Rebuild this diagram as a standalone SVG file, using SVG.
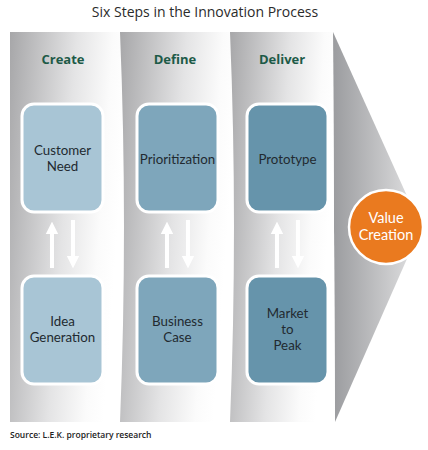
<svg xmlns="http://www.w3.org/2000/svg" width="428" height="450" viewBox="0 0 428 450">
<defs>
<linearGradient id="pg" x1="0" y1="0" x2="1" y2="0.25">
<stop offset="0" stop-color="#a7a7a9"/>
<stop offset="0.55" stop-color="#e4e4e5"/>
<stop offset="0.85" stop-color="#fbfbfb"/>
<stop offset="1" stop-color="#ffffff"/>
</linearGradient>
<linearGradient id="cg" x1="0" y1="0" x2="1" y2="0">
<stop offset="0" stop-color="#9b9c9f"/>
<stop offset="1" stop-color="#e4e4e5"/>
</linearGradient>
<marker id="ah" viewBox="0 0 10 10" refX="5" refY="5" markerWidth="3.2" markerHeight="3.6" orient="auto-start-reverse" markerUnits="strokeWidth">
<path d="M0,0 L10,5 L0,10 z" fill="#ffffff"/>
</marker>
<style>
.title{font-family:"Open Sans","Liberation Sans",sans-serif;font-size:14px;fill:#2b2b2b;text-anchor:middle}
.hdr{font-family:"Open Sans","Liberation Sans",sans-serif;font-size:13px;font-weight:bold;fill:#1d5a47;text-anchor:middle}
.lbl{font-family:Lato,"Open Sans","Liberation Sans",sans-serif;font-size:13.3px;fill:#222a30;text-anchor:middle}
.vc{font-family:Lato,"Open Sans","Liberation Sans",sans-serif;font-size:14.5px;fill:#ffffff;text-anchor:middle}
.src{font-family:"Open Sans","Liberation Sans",sans-serif;font-size:8.5px;font-weight:600;fill:#222222}
.box{stroke:#ffffff;stroke-width:3}
.c1{fill:#a8c5d5}
.c2{fill:#7ea6bb}
.c3{fill:#6694ab}
.arr{stroke:#ffffff;stroke-width:4;fill:none}
</style>
</defs>
<rect width="428" height="450" fill="#ffffff"/>
<text class="title" x="205" y="17">Six Steps in the Innovation Process</text>

<g id="background">
<path d="M333,32 L421,227 L335,422 Z" fill="url(#cg)"/>
<rect x="10" y="32" width="115" height="390" fill="url(#pg)"/>
<path d="M120,32 Q128,227 120,422 L235,422 L235,32 Z" fill="url(#pg)"/>
<path d="M230,32 Q238,227 230,422 L335,422 L333,32 Z" fill="url(#pg)"/>
</g>

<g id="headers">
<text class="hdr" x="63" y="64">Create</text>
<text class="hdr" x="175" y="64">Define</text>
<text class="hdr" x="282" y="64">Deliver</text>
</g>

<g id="customer-need">
<rect class="box c1" x="22" y="104" width="81" height="108" rx="12"/>
<text class="lbl" x="62.5" y="155">Customer</text>
<text class="lbl" x="62.5" y="171">Need</text>
</g>
<g id="prioritization">
<rect class="box c2" x="137" y="104" width="81" height="108" rx="12"/>
<text class="lbl" x="177.5" y="164">Prioritization</text>
</g>
<g id="prototype">
<rect class="box c3" x="247" y="104" width="81" height="108" rx="12"/>
<text class="lbl" x="287.5" y="164">Prototype</text>
</g>
<g id="idea-generation">
<rect class="box c1" x="22" y="276" width="81" height="108" rx="12"/>
<text class="lbl" x="62.5" y="326">Idea</text>
<text class="lbl" x="62.5" y="342">Generation</text>
</g>
<g id="business-case">
<rect class="box c2" x="137" y="276" width="81" height="108" rx="12"/>
<text class="lbl" x="177.5" y="326">Business</text>
<text class="lbl" x="177.5" y="342">Case</text>
</g>
<g id="market-to-peak">
<rect class="box c3" x="247" y="276" width="81" height="108" rx="12"/>
<text class="lbl" x="287.5" y="318">Market</text>
<text class="lbl" x="287.5" y="334">to</text>
<text class="lbl" x="287.5" y="350">Peak</text>
</g>
<g id="value-creation">
<circle cx="386" cy="227" r="37" fill="#ea7a1f" stroke="#ffffff" stroke-width="2.5"/>
<text class="vc" x="386" y="223">Value</text>
<text class="vc" x="386" y="240">Creation</text>
</g>

<g id="connectors">
<line class="arr" x1="52" y1="268" x2="52" y2="228" marker-end="url(#ah)"/>
<line class="arr" x1="73" y1="220" x2="73" y2="262" marker-end="url(#ah)"/>
<line class="arr" x1="167" y1="268" x2="167" y2="228" marker-end="url(#ah)"/>
<line class="arr" x1="188" y1="220" x2="188" y2="262" marker-end="url(#ah)"/>
<line class="arr" x1="277" y1="268" x2="277" y2="228" marker-end="url(#ah)"/>
<line class="arr" x1="298" y1="220" x2="298" y2="262" marker-end="url(#ah)"/>
</g>

<text class="src" x="10" y="438">Source: L.E.K. proprietary research</text>
</svg>
